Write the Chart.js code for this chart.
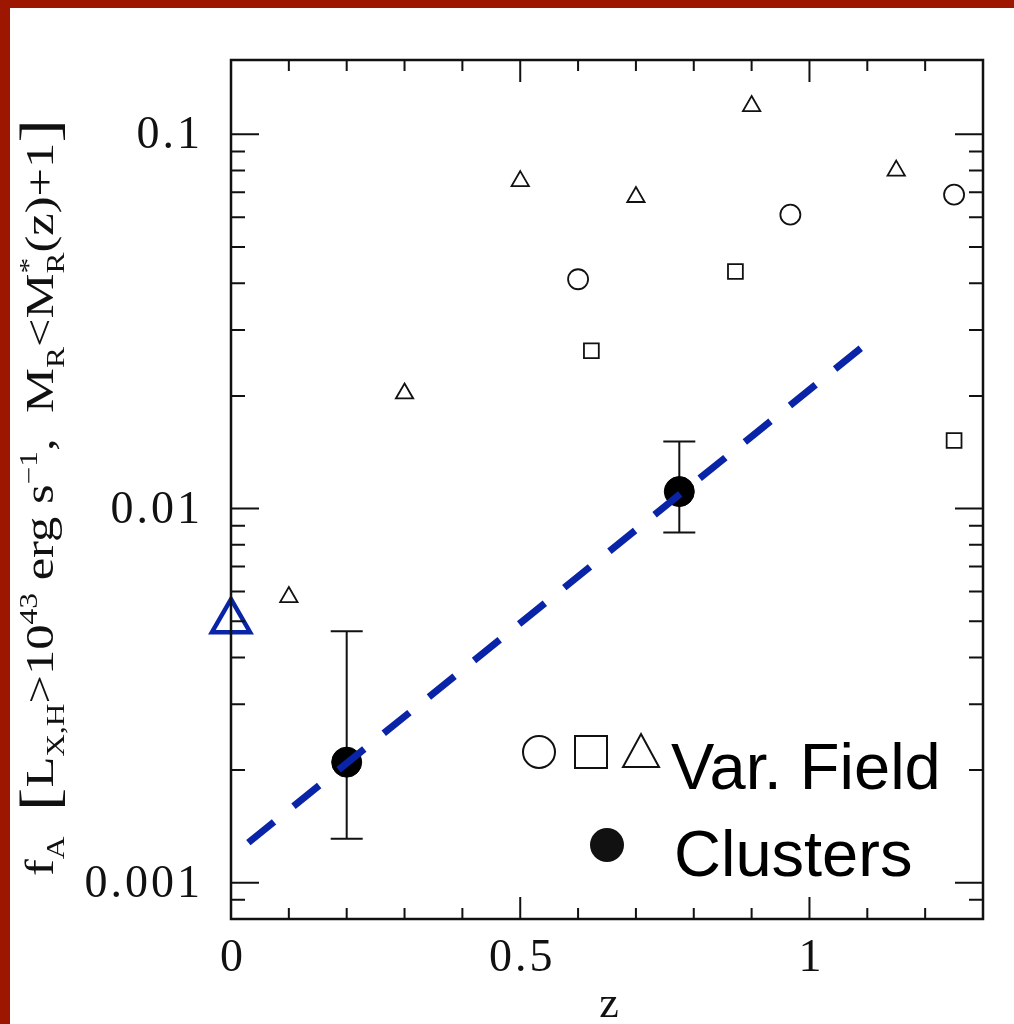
<!DOCTYPE html>
<html>
<head>
<meta charset="utf-8">
<script src="https://cdn.jsdelivr.net/npm/chart.js@4.4.1/dist/chart.umd.min.js"></script>
<style>
  html, body { margin: 0; padding: 0; background: #fff; }
  #wrap { position: relative; width: 1014px; height: 1024px; overflow: hidden; }
  .bar { position: absolute; background: #9c1600; }
</style>
</head>
<body>
<div id="wrap">
  <canvas id="fa-chart" width="1014" height="1024"></canvas>
  <div class="bar" style="left:0;top:0;width:1014px;height:8px"></div>
  <div class="bar" style="left:0;top:0;width:10px;height:1024px"></div>
</div>
<script>
// values
const fieldTriZ  = [0.1, 0.3, 0.5, 0.7, 0.9, 1.15];
const fieldTriF  = [0.0058, 0.0203, 0.075, 0.068, 0.119, 0.080];
const fieldCircZ = [0.6, 0.967, 1.25];
const fieldCircF = [0.041, 0.061, 0.069];
const fieldSqZ   = [0.623, 0.872, 1.25];
const fieldSqF   = [0.0264, 0.043, 0.0152];
const clusterZ   = [0.2, 0.775];
const clusterF   = [0.0021, 0.0111];
const clusterLo  = [0.00131, 0.00863];
const clusterHi  = [0.0047, 0.0151];
const localZ     = [0];
const localF     = [0.0050];
const fitZ       = [0.03, 1.09];
const fitF       = [0.00128, 0.0269];

const xTicks      = [0, 0.5, 1];
const xTickLabels = ['0', '0.5', '1'];
const xMinorTicks = [0.1, 0.2, 0.3, 0.4, 0.6, 0.7, 0.8, 0.9, 1.1, 1.2];
const yTicks      = [0.001, 0.01, 0.1];
const yTickLabels = ['0.001', '0.01', '0.1'];

const BLUE = '#0a24a8';
const SERIF = '"Liberation Serif", "Times New Roman", Times, serif';
const SANS = '"Liberation Sans", Arial, sans-serif';
const toPts = (xs, ys) => xs.map((x, i) => ({ x, y: ys[i] }));

function yMinorTicks(min, max) {
  const out = [];
  for (let d = 0.0001; d < 1; d *= 10) {
    for (let m = 2; m <= 9; m++) {
      const v = m * d;
      if (v > min && v < max) out.push(v);
    }
  }
  return out;
}

// rich text for the rotated y title
const yTitle = [
  { t: 'f' }, { t: 'A', sub: true }, { t: '  ' },
  { t: '[', big: true }, { t: 'L' }, { t: 'X,H', sub: true },
  { t: '>10' }, { t: '43', sup: true }, { t: ' erg s' }, { t: '\u22121', sup: true },
  { t: ',  M' }, { t: 'R', sub: true }, { t: '<M' }, { t: '*', sup: true, stack: 'R' },
  { t: '(z)+1' }, { t: ']', big: true }
];

function drawRich(ctx, segs, size, targetLen) {
  const font = s => `${s}px ${SERIF}`;
  const small = size * 0.62;
  const big = size * 1.4;
  const width = seg => {
    ctx.font = font(seg.big ? big : (seg.sub || seg.sup ? small : size));
    let w = ctx.measureText(seg.t).width;
    if (seg.stack) w = Math.max(w, ctx.measureText(seg.stack).width);
    return w;
  };
  const total = segs.reduce((a, s) => a + width(s), 0);
  ctx.save();
  ctx.scale(targetLen / total, 1);
  let x = -total / 2;
  for (const seg of segs) {
    const w = width(seg);
    ctx.font = font(seg.big ? big : (seg.sub || seg.sup ? small : size));
    let dy = 0;
    if (seg.sub) dy = size * 0.28;
    if (seg.sup) dy = -size * 0.42;
    if (seg.big) dy = size * 0.12;
    ctx.fillText(seg.t, x, dy);
    if (seg.stack) ctx.fillText(seg.stack, x, size * 0.28);
    x += w;
  }
  ctx.restore();
}

const framePlugin = {
  id: 'frame',
  beforeDatasetsDraw(chart) {
    const { ctx, scales: { x, y } } = chart;
    ctx.save();
    ctx.strokeStyle = '#111';
    ctx.lineWidth = 2;
    clusterZ.forEach((z, i) => {
      const px = x.getPixelForValue(z);
      const top = y.getPixelForValue(clusterHi[i]);
      const bot = y.getPixelForValue(clusterLo[i]);
      ctx.beginPath();
      ctx.moveTo(px, top); ctx.lineTo(px, bot);
      ctx.moveTo(px - 16, top); ctx.lineTo(px + 16, top);
      ctx.moveTo(px - 16, bot); ctx.lineTo(px + 16, bot);
      ctx.stroke();
    });
    ctx.restore();
  },
  afterDraw(chart) {
    const { ctx, chartArea: a, scales: { x, y } } = chart;
    ctx.save();
    ctx.strokeStyle = '#111';
    ctx.fillStyle = '#111';

    // frame
    ctx.lineWidth = 2.5;
    ctx.strokeRect(a.left, a.top, a.right - a.left, a.bottom - a.top);

    // inward ticks, all four sides
    ctx.lineWidth = 2;
    ctx.beginPath();
    const xt = (v, len) => {
      const p = x.getPixelForValue(v);
      ctx.moveTo(p, a.bottom); ctx.lineTo(p, a.bottom - len);
      ctx.moveTo(p, a.top); ctx.lineTo(p, a.top + len);
    };
    const yt = (v, len) => {
      const p = y.getPixelForValue(v);
      ctx.moveTo(a.left, p); ctx.lineTo(a.left + len, p);
      ctx.moveTo(a.right, p); ctx.lineTo(a.right - len, p);
    };
    xTicks.forEach(v => xt(v, 22));
    xMinorTicks.forEach(v => xt(v, 11));
    yTicks.forEach(v => yt(v, 28));
    yMinorTicks(y.min, y.max).forEach(v => yt(v, 14));
    ctx.stroke();

    // tick labels
    ctx.letterSpacing = '3px';
    ctx.font = `46px ${SERIF}`;
    ctx.textBaseline = 'middle';
    ctx.textAlign = 'right';
    yTicks.forEach((v, i) => ctx.fillText(yTickLabels[i], a.left - 28, y.getPixelForValue(v) + 2));
    ctx.textAlign = 'center';
    xTicks.forEach((v, i) => ctx.fillText(xTickLabels[i], x.getPixelForValue(v) + 2, a.bottom + 40));
    ctx.letterSpacing = '0px';

    // x title
    ctx.font = `44px ${SERIF}`;
    ctx.fillText('z', (a.left + a.right) / 2 + 2, a.bottom + 86);

    // y title
    ctx.save();
    ctx.translate(a.left - 178, (a.top + a.bottom) / 2 + 8);
    ctx.rotate(-Math.PI / 2);
    ctx.textAlign = 'left';
    ctx.textBaseline = 'alphabetic';
    drawRich(ctx, yTitle, 39, 757);
    ctx.restore();

    // legend
    const lx = a.left, ly = a.top;
    ctx.lineWidth = 2;
    ctx.beginPath(); ctx.arc(lx + 308, ly + 692, 16, 0, Math.PI * 2); ctx.stroke();
    ctx.strokeRect(lx + 344, ly + 676, 32, 32);
    ctx.beginPath();
    ctx.moveTo(lx + 410, ly + 674); ctx.lineTo(lx + 428, ly + 707); ctx.lineTo(lx + 392, ly + 707);
    ctx.closePath(); ctx.stroke();
    ctx.beginPath(); ctx.arc(lx + 376, ly + 785, 17, 0, Math.PI * 2); ctx.fill();
    ctx.fillStyle = '#000';
    ctx.textAlign = 'left';
    ctx.textBaseline = 'alphabetic';
    ctx.font = `65px ${SANS}`;
    ctx.fillText('Var. Field', lx + 440, ly + 729);
    ctx.fillText('Clusters', lx + 443, ly + 816);
    ctx.restore();
  }
};

const ctx = document.getElementById('fa-chart').getContext('2d');
new Chart(ctx, {
  type: 'scatter',
  data: {
    datasets: [
      {
        type: 'line',
        label: 'fit',
        data: toPts(fitZ, fitF),
        borderColor: BLUE,
        borderWidth: 7,
        borderDash: [33, 25],
        pointRadius: 0,
        fill: false,
        order: 0
      },
      {
        label: 'Clusters',
        data: toPts(clusterZ, clusterF),
        pointStyle: 'circle',
        pointRadius: 15,
        backgroundColor: '#000',
        borderColor: '#000',
        borderWidth: 1,
        order: 1
      },
      {
        label: 'local',
        data: toPts(localZ, localF),
        pointStyle: 'triangle',
        pointRadius: 22,
        backgroundColor: 'rgba(0,0,0,0)',
        borderColor: BLUE,
        borderWidth: 4.5,
        order: 2
      },
      {
        label: 'Var. Field (tri)',
        data: toPts(fieldTriZ, fieldTriF),
        pointStyle: 'triangle',
        pointRadius: 10,
        backgroundColor: 'rgba(0,0,0,0)',
        borderColor: '#111',
        borderWidth: 1.8,
        order: 2
      },
      {
        label: 'Var. Field (circ)',
        data: toPts(fieldCircZ, fieldCircF),
        pointStyle: 'circle',
        pointRadius: 10,
        backgroundColor: 'rgba(0,0,0,0)',
        borderColor: '#111',
        borderWidth: 1.8,
        order: 2
      },
      {
        label: 'Var. Field (sq)',
        data: toPts(fieldSqZ, fieldSqF),
        pointStyle: 'rect',
        pointRadius: 10.5,
        backgroundColor: 'rgba(0,0,0,0)',
        borderColor: '#111',
        borderWidth: 1.8,
        order: 2
      }
    ]
  },
  options: {
    responsive: false,
    animation: false,
    clip: false,
    layout: { padding: { left: 231, top: 60, right: 31, bottom: 105 } },
    scales: {
      x: { type: 'linear', min: 0, max: 1.3, display: false },
      y: { type: 'logarithmic', min: 0.0008, max: 0.158, display: false }
    },
    plugins: {
      legend: { display: false },
      tooltip: { enabled: false }
    }
  },
  plugins: [framePlugin]
});
</script>
</body>
</html>
